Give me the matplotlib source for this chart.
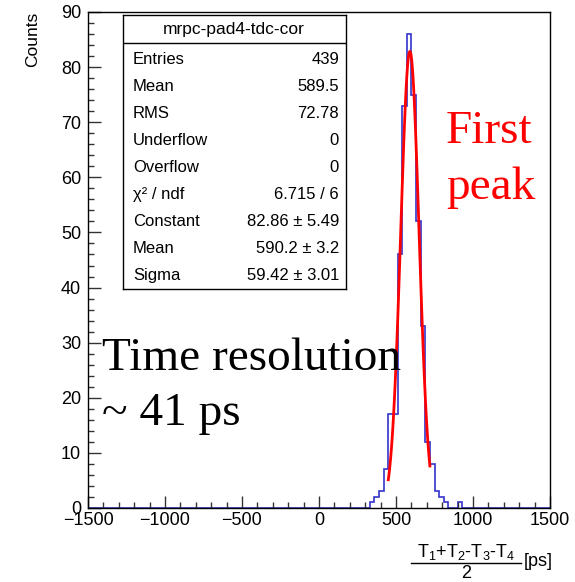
import numpy as np
import matplotlib
matplotlib.use('Agg')
import matplotlib.pyplot as plt
from matplotlib.ticker import MultipleLocator
from matplotlib.lines import Line2D

plt.rcParams['font.family'] = ['Liberation Sans', 'DejaVu Sans']
plt.rcParams['mathtext.fontset'] = 'custom'
plt.rcParams['mathtext.rm'] = 'Liberation Sans'
plt.rcParams['mathtext.it'] = 'Liberation Sans:italic'
plt.rcParams['mathtext.bf'] = 'Liberation Sans:bold'

# histogram: 100 bins in [-1500, 1500], only the filled bins are listed (lower edge -> counts)
x_min, x_max, n_bins = -1500, 1500, 100
bin_low = [330, 360, 390, 420, 450, 480, 510, 540, 570, 600, 630, 660, 690, 720, 750, 780, 810, 900]
counts = [1, 2, 3, 7, 17, 17, 46, 73, 86, 75, 52, 33, 12, 8, 3, 2, 1, 1]

# gaus fit result (from the stats box)
fit_const, fit_mean, fit_sigma = 82.86, 590.2, 59.42
fit_lo, fit_hi = 450, 720

stats_title = 'mrpc-pad4-tdc-cor'
stats_names = ['Entries', 'Mean', 'RMS', 'Underflow', 'Overflow', 'χ² / ndf',
               'Constant', 'Mean', 'Sigma']
stats_values = ['439', '589.5', '72.78', '0', '0', '6.715 / 6',
                '82.86 ± 5.49', '590.2 ± 3.2', '59.42 ± 3.01']

W, H = 575, 582
fig = plt.figure(figsize=(W / 100, H / 100), dpi=100)

def fx(px):
    return px / W

def fy(py):
    return 1 - py / H

ax = fig.add_axes([fx(88), fy(508), fx(550) - fx(88), fy(12) - fy(508)])

edges = np.linspace(x_min, x_max, n_bins + 1)
bw = edges[1] - edges[0]
h = np.zeros(n_bins)
for lo, c in zip(bin_low, counts):
    h[int(round((lo - x_min) / bw))] = c
ax.stairs(h, edges, color='#3434cc', lw=1.2, zorder=1)

xf = np.linspace(fit_lo, fit_hi, 100)
yf = fit_const * np.exp(-0.5 * ((xf - fit_mean) / fit_sigma) ** 2)
ax.plot(xf, yf, color='red', lw=2, zorder=2)

ax.set_xlim(x_min, x_max)
ax.set_ylim(0, 90)
ax.xaxis.set_major_locator(MultipleLocator(500))
ax.xaxis.set_minor_locator(MultipleLocator(100))
ax.yaxis.set_major_locator(MultipleLocator(10))
ax.yaxis.set_minor_locator(MultipleLocator(2))
ax.tick_params(which='both', direction='in', top=False, right=False, labelsize=13,
               width=1, color='#333333')
ax.tick_params(which='major', length=9)
ax.tick_params(which='minor', length=4.5)
ax.tick_params(axis='y', pad=5)
ax.tick_params(axis='x', pad=3)
for s in ax.spines.values():
    s.set_linewidth(1)
    s.set_zorder(3)

# axis titles
fig.text(fx(33), fy(12), 'Counts', rotation=90, ha='center', va='top', fontsize=12.5)
# x title: (T1+T2-T3-T4)/2 [ps] built as a fraction
fig.text(fx(466), fy(552), r'T$_1$+T$_2$-T$_3$-T$_4$', ha='center', va='center', fontsize=13)
fig.add_artist(Line2D([fx(411), fx(521)], [fy(563), fy(563)], color='black', lw=1))
fig.text(fx(466), fy(574), '2', ha='center', va='center', fontsize=13)
fig.text(fx(524), fy(562), '[ps]', ha='left', va='center', fontsize=13)

# stats box
bax = fig.add_axes([fx(123), fy(289), fx(346) - fx(123), fy(15) - fy(289)])
bax.set_xlim(123, 346)
bax.set_ylim(289, 15)
bax.set_xticks([])
bax.set_yticks([])
for s in bax.spines.values():
    s.set_linewidth(1)
bax.axhline(43, color='black', lw=1)
bax.text(234, 29.5, stats_title, ha='center', va='center', fontsize=12.5)
for i, (nm, val) in enumerate(zip(stats_names, stats_values)):
    yy = 59.5 + 27 * i
    bax.text(133, yy, nm, ha='left', va='center', fontsize=12)
    bax.text(339, yy, val, ha='right', va='center', fontsize=12)

# annotations
serif = ['Liberation Serif', 'DejaVu Serif']
fig.text(fx(446), fy(143), 'First', color='red', fontsize=34, family=serif, va='baseline')
fig.text(fx(446), fy(199), 'peak', color='red', fontsize=34, family=serif, va='baseline')
fig.text(fx(102), fy(370), 'Time resolution', color='black', fontsize=34, family=serif, va='baseline')
fig.text(fx(102), fy(425), '~ 41 ps', color='black', fontsize=34, family=serif, va='baseline')

fig.savefig('out.png', dpi=100)
